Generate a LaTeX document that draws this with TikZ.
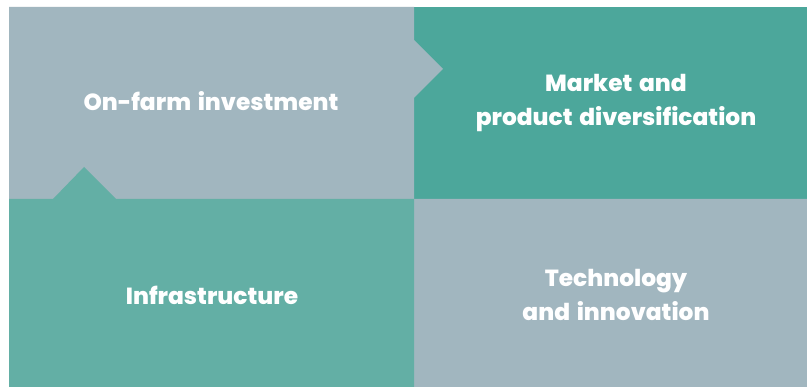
\documentclass[tikz,border=0pt]{standalone}
\usepackage{fontspec}
\setmainfont{Poppins}[BoldFont={Poppins ExtraBold}, WordSpace=1.5]
\definecolor{slate}{HTML}{A1B6BF}
\definecolor{tealdark}{HTML}{4CA79B}
\definecolor{teallight}{HTML}{63AFA5}
\tikzset{
  label/.style={text=white, font=\fontsize{23.3}{34}\selectfont\bfseries, align=center, inner sep=0pt}
}
\begin{document}
\begin{tikzpicture}[x=1pt, y=-1pt]
  \useasboundingbox[fill=white] (0,0) rectangle (807,387);
  % top-right panel
  \fill[tealdark] (414,7) rectangle (807,199);
  % top-left panel with its arrow point to the right
  \fill[slate] (9,7) -- (414,7) -- (414,40) -- (443,69) -- (414,98) -- (414,199) -- (9,199) -- cycle;
  % bottom-right panel with its arrow point to the left
  \fill[slate] (414,199) -- (807,199) -- (807,387) -- (414,387) -- (414,288) -- (384,259) -- (414,229) -- cycle;
  % bottom-left panel with its arrow point upwards
  \fill[teallight] (9,199) -- (53,199) -- (84,167) -- (116,199) -- (414,199) -- (414,387) -- (9,387) -- cycle;

  \node[label] (onfarm) at (211,101) {On-farm investment};
  \node[label] (market) at (616,103) {Market and\\product diversification};
  \node[label] (infra) at (212,295) {Infrastructure};
  \node[label] (tech) at (616,295) {Technology\\and innovation};
\end{tikzpicture}
\end{document}
